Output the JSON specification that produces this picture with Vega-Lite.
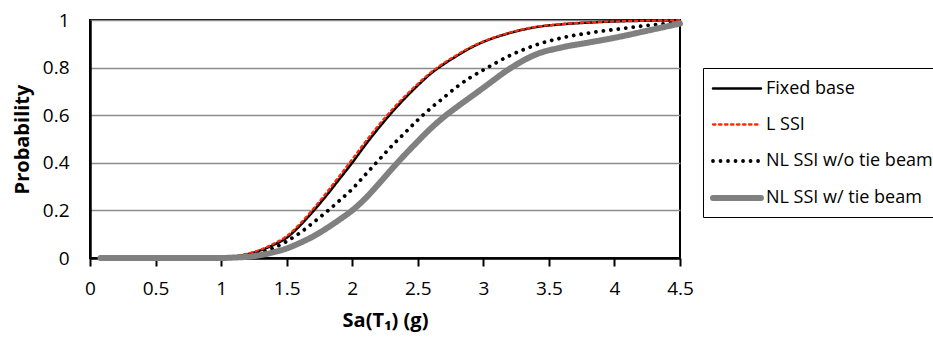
{
  "$schema": "https://vega.github.io/schema/vega-lite/v6.json",
  "autosize": {"type": "none"},
  "width": 590,
  "height": 238,
  "padding": {"left": 90, "top": 20, "right": 253, "bottom": 80},
  "background": "white",
  "config": {
    "font": "Open Sans",
    "view": {"stroke": "black", "strokeWidth": 2},
    "axis": {"labelColor": "black", "titleColor": "black", "labelFont": "Open Sans", "titleFont": "Open Sans"}
  },
  "data": {"values": [
    {"x":0.08,"p":0,"s":"Fixed base"},{"x":0.5,"p":0,"s":"Fixed base"},{"x":1.0,"p":0.002,"s":"Fixed base"},{"x":1.1,"p":0.006,"s":"Fixed base"},{"x":1.2,"p":0.016,"s":"Fixed base"},{"x":1.3,"p":0.032,"s":"Fixed base"},{"x":1.4,"p":0.055,"s":"Fixed base"},{"x":1.5,"p":0.085,"s":"Fixed base"},{"x":1.6,"p":0.135,"s":"Fixed base"},{"x":1.7,"p":0.195,"s":"Fixed base"},{"x":1.8,"p":0.26,"s":"Fixed base"},{"x":1.9,"p":0.33,"s":"Fixed base"},{"x":2.0,"p":0.4,"s":"Fixed base"},{"x":2.1,"p":0.475,"s":"Fixed base"},{"x":2.2,"p":0.545,"s":"Fixed base"},{"x":2.3,"p":0.61,"s":"Fixed base"},{"x":2.4,"p":0.67,"s":"Fixed base"},{"x":2.5,"p":0.725,"s":"Fixed base"},{"x":2.6,"p":0.775,"s":"Fixed base"},{"x":2.7,"p":0.815,"s":"Fixed base"},{"x":2.8,"p":0.85,"s":"Fixed base"},{"x":2.9,"p":0.882,"s":"Fixed base"},{"x":3.0,"p":0.908,"s":"Fixed base"},{"x":3.2,"p":0.945,"s":"Fixed base"},{"x":3.4,"p":0.97,"s":"Fixed base"},{"x":3.6,"p":0.982,"s":"Fixed base"},{"x":3.8,"p":0.989,"s":"Fixed base"},{"x":4.0,"p":0.994,"s":"Fixed base"},{"x":4.25,"p":0.997,"s":"Fixed base"},{"x":4.5,"p":0.999,"s":"Fixed base"},
    {"x":0.08,"p":0,"s":"L SSI"},{"x":0.5,"p":0,"s":"L SSI"},{"x":1.0,"p":0.002,"s":"L SSI"},{"x":1.1,"p":0.007,"s":"L SSI"},{"x":1.2,"p":0.018,"s":"L SSI"},{"x":1.3,"p":0.035,"s":"L SSI"},{"x":1.4,"p":0.06,"s":"L SSI"},{"x":1.5,"p":0.092,"s":"L SSI"},{"x":1.6,"p":0.143,"s":"L SSI"},{"x":1.7,"p":0.205,"s":"L SSI"},{"x":1.8,"p":0.272,"s":"L SSI"},{"x":1.9,"p":0.343,"s":"L SSI"},{"x":2.0,"p":0.415,"s":"L SSI"},{"x":2.1,"p":0.488,"s":"L SSI"},{"x":2.2,"p":0.557,"s":"L SSI"},{"x":2.3,"p":0.621,"s":"L SSI"},{"x":2.4,"p":0.679,"s":"L SSI"},{"x":2.5,"p":0.732,"s":"L SSI"},{"x":2.6,"p":0.78,"s":"L SSI"},{"x":2.7,"p":0.82,"s":"L SSI"},{"x":2.8,"p":0.854,"s":"L SSI"},{"x":2.9,"p":0.885,"s":"L SSI"},{"x":3.0,"p":0.91,"s":"L SSI"},{"x":3.2,"p":0.947,"s":"L SSI"},{"x":3.4,"p":0.971,"s":"L SSI"},{"x":3.6,"p":0.983,"s":"L SSI"},{"x":3.8,"p":0.99,"s":"L SSI"},{"x":4.0,"p":0.994,"s":"L SSI"},{"x":4.25,"p":0.997,"s":"L SSI"},{"x":4.5,"p":0.999,"s":"L SSI"},
    {"x":0.08,"p":0,"s":"NL SSI w/o tie beam"},{"x":0.5,"p":0,"s":"NL SSI w/o tie beam"},{"x":1.0,"p":0.001,"s":"NL SSI w/o tie beam"},{"x":1.1,"p":0.004,"s":"NL SSI w/o tie beam"},{"x":1.2,"p":0.01,"s":"NL SSI w/o tie beam"},{"x":1.3,"p":0.022,"s":"NL SSI w/o tie beam"},{"x":1.4,"p":0.042,"s":"NL SSI w/o tie beam"},{"x":1.5,"p":0.07,"s":"NL SSI w/o tie beam"},{"x":1.6,"p":0.105,"s":"NL SSI w/o tie beam"},{"x":1.7,"p":0.148,"s":"NL SSI w/o tie beam"},{"x":1.8,"p":0.192,"s":"NL SSI w/o tie beam"},{"x":1.9,"p":0.24,"s":"NL SSI w/o tie beam"},{"x":2.0,"p":0.29,"s":"NL SSI w/o tie beam"},{"x":2.1,"p":0.35,"s":"NL SSI w/o tie beam"},{"x":2.2,"p":0.41,"s":"NL SSI w/o tie beam"},{"x":2.3,"p":0.47,"s":"NL SSI w/o tie beam"},{"x":2.4,"p":0.525,"s":"NL SSI w/o tie beam"},{"x":2.5,"p":0.58,"s":"NL SSI w/o tie beam"},{"x":2.6,"p":0.63,"s":"NL SSI w/o tie beam"},{"x":2.7,"p":0.675,"s":"NL SSI w/o tie beam"},{"x":2.8,"p":0.72,"s":"NL SSI w/o tie beam"},{"x":2.9,"p":0.758,"s":"NL SSI w/o tie beam"},{"x":3.0,"p":0.79,"s":"NL SSI w/o tie beam"},{"x":3.2,"p":0.85,"s":"NL SSI w/o tie beam"},{"x":3.4,"p":0.895,"s":"NL SSI w/o tie beam"},{"x":3.6,"p":0.925,"s":"NL SSI w/o tie beam"},{"x":3.8,"p":0.945,"s":"NL SSI w/o tie beam"},{"x":4.0,"p":0.96,"s":"NL SSI w/o tie beam"},{"x":4.25,"p":0.977,"s":"NL SSI w/o tie beam"},{"x":4.5,"p":0.99,"s":"NL SSI w/o tie beam"},
    {"x":0.08,"p":0,"s":"NL SSI w/ tie beam"},{"x":0.5,"p":0,"s":"NL SSI w/ tie beam"},{"x":1.0,"p":0.0,"s":"NL SSI w/ tie beam"},{"x":1.1,"p":0.002,"s":"NL SSI w/ tie beam"},{"x":1.2,"p":0.005,"s":"NL SSI w/ tie beam"},{"x":1.3,"p":0.012,"s":"NL SSI w/ tie beam"},{"x":1.4,"p":0.024,"s":"NL SSI w/ tie beam"},{"x":1.5,"p":0.04,"s":"NL SSI w/ tie beam"},{"x":1.6,"p":0.063,"s":"NL SSI w/ tie beam"},{"x":1.7,"p":0.09,"s":"NL SSI w/ tie beam"},{"x":1.8,"p":0.123,"s":"NL SSI w/ tie beam"},{"x":1.9,"p":0.16,"s":"NL SSI w/ tie beam"},{"x":2.0,"p":0.2,"s":"NL SSI w/ tie beam"},{"x":2.1,"p":0.25,"s":"NL SSI w/ tie beam"},{"x":2.2,"p":0.31,"s":"NL SSI w/ tie beam"},{"x":2.3,"p":0.373,"s":"NL SSI w/ tie beam"},{"x":2.4,"p":0.433,"s":"NL SSI w/ tie beam"},{"x":2.5,"p":0.49,"s":"NL SSI w/ tie beam"},{"x":2.6,"p":0.545,"s":"NL SSI w/ tie beam"},{"x":2.7,"p":0.593,"s":"NL SSI w/ tie beam"},{"x":2.8,"p":0.635,"s":"NL SSI w/ tie beam"},{"x":2.9,"p":0.675,"s":"NL SSI w/ tie beam"},{"x":3.0,"p":0.715,"s":"NL SSI w/ tie beam"},{"x":3.2,"p":0.795,"s":"NL SSI w/ tie beam"},{"x":3.4,"p":0.855,"s":"NL SSI w/ tie beam"},{"x":3.6,"p":0.885,"s":"NL SSI w/ tie beam"},{"x":3.8,"p":0.905,"s":"NL SSI w/ tie beam"},{"x":4.0,"p":0.925,"s":"NL SSI w/ tie beam"},{"x":4.25,"p":0.955,"s":"NL SSI w/ tie beam"},{"x":4.5,"p":0.985,"s":"NL SSI w/ tie beam"}
  ]},
  "mark": {"type": "line", "interpolate": "monotone", "strokeCap": "round", "strokeJoin": "round"},
  "encoding": {
    "x": {
      "field": "x", "type": "quantitative",
      "scale": {"domain": [0, 4.5], "nice": false, "zero": false},
      "axis": {
        "values": [0, 0.5, 1, 1.5, 2, 2.5, 3, 3.5, 4, 4.5],
        "format": "~g", "grid": false,
        "domainColor": "black", "domainWidth": 2.5,
        "tickColor": "black", "tickWidth": 2, "tickSize": 8,
        "labelFontSize": 19, "labelPadding": 13, "labelFlush": false,
        "title": "Sa(T₁) (g)", "titleFontSize": 20, "titleFontWeight": "bold", "titlePadding": 12
      }
    },
    "y": {
      "field": "p", "type": "quantitative",
      "scale": {"domain": [0, 1], "nice": false},
      "axis": {
        "values": [0, 0.2, 0.4, 0.6, 0.8, 1],
        "format": "~g", "ticks": false,
        "grid": true, "gridColor": "#8C8C8C", "gridWidth": 1.5,
        "domainColor": "black", "domainWidth": 2.5,
        "labelFontSize": 19, "labelPadding": 21, "labelFlush": false,
        "title": "Probability", "titleFontSize": 20, "titleFontWeight": "bold", "titlePadding": 10
      }
    },
    "color": {
      "field": "s", "type": "nominal",
      "scale": {
        "domain": ["Fixed base", "L SSI", "NL SSI w/o tie beam", "NL SSI w/ tie beam"],
        "range": ["#000000", "#FF2A0A", "#000000", "#808080"]
      },
      "legend": {
        "title": null, "orient": "none", "legendX": 613, "legendY": 48,
        "padding": 7, "strokeColor": "black", "fillColor": "white",
        "symbolType": "M-1,0H3", "symbolSize": 576, "symbolFillColor": "transparent",
        "labelFontSize": 18, "labelColor": "black", "labelOffset": 26, "rowPadding": 13,
        "labelLimit": 400,
        "encode": {
          "symbols": {"update": {
            "strokeDash": {"signal": "datum.value === 'L SSI' ? [4, 5] : datum.value === 'NL SSI w/o tie beam' ? [0.01, 10.5] : [1, 0]"},
            "strokeCap": {"value": "round"}
          }}
        }
      }
    },
    "strokeDash": {
      "field": "s", "type": "nominal",
      "scale": {
        "domain": ["Fixed base", "L SSI", "NL SSI w/o tie beam", "NL SSI w/ tie beam"],
        "range": [[1, 0], [2.5, 3.5], [0.01, 7.5], [1, 0]]
      },
      "legend": null
    },
    "strokeWidth": {
      "field": "s", "type": "nominal",
      "scale": {
        "type": "ordinal",
        "domain": ["Fixed base", "L SSI", "NL SSI w/o tie beam", "NL SSI w/ tie beam"],
        "range": [2.5, 2.3, 3.8, 6]
      },
      "legend": null
    }
  }
}
